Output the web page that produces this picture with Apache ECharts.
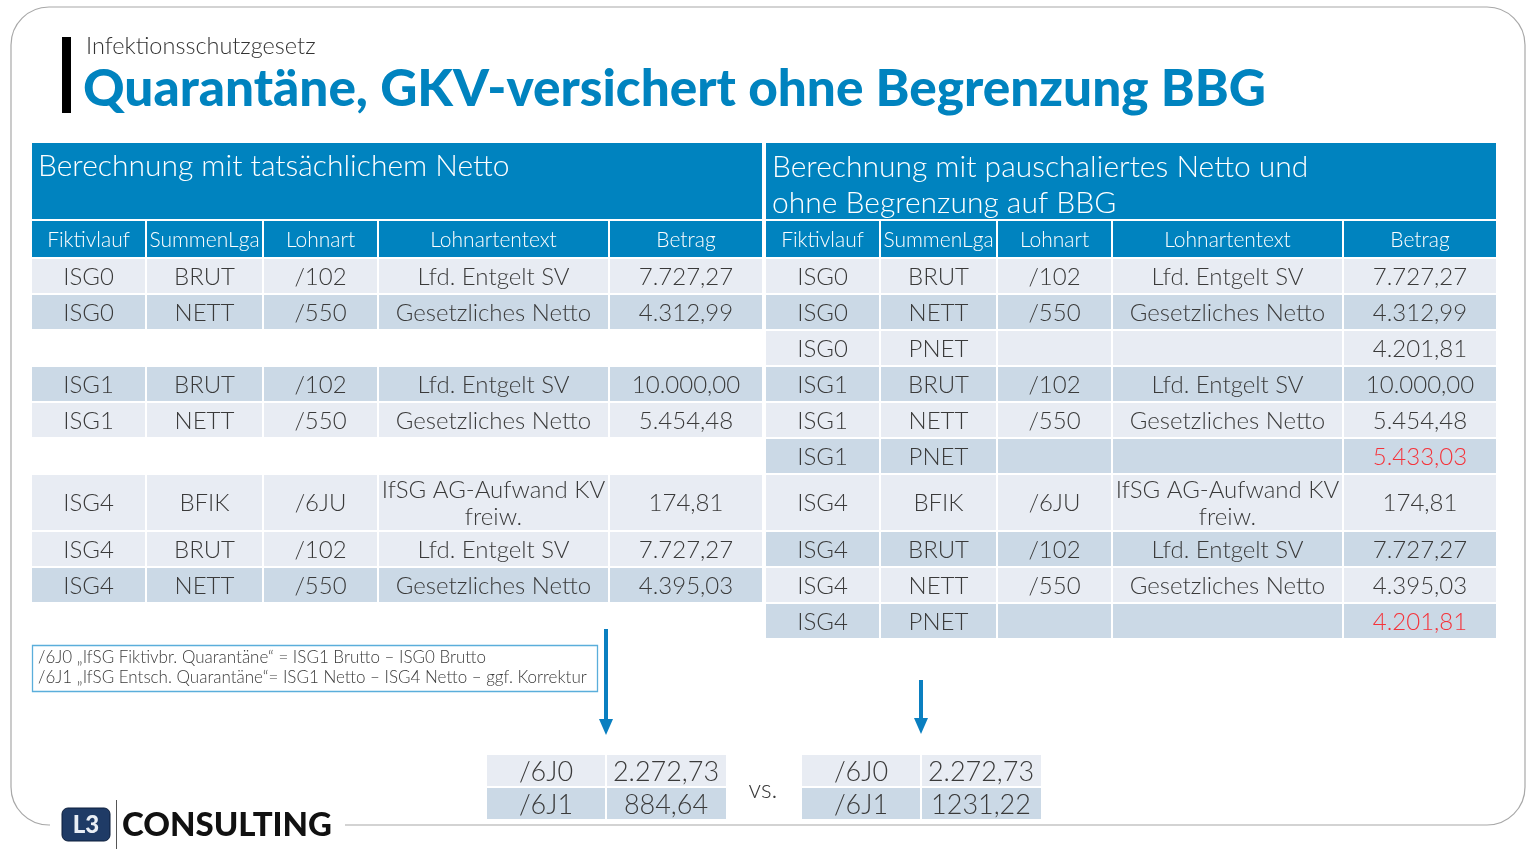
<!DOCTYPE html>
<html>
<head>
<meta charset="utf-8">
<script src="https://cdn.jsdelivr.net/npm/echarts@6/dist/echarts.min.js"></script>
<style>html,body{margin:0;padding:0;background:#fff}#c{width:1536px;height:853px}</style>
</head>
<body>
<div id="c"></div>
<script>
// ---------- data ----------
const kicker = 'Infektionsschutzgesetz';
const title = 'Quarantäne, GKV-versichert ohne Begrenzung BBG';
const columns = ['Fiktivlauf', 'SummenLga', 'Lohnart', 'Lohnartentext', 'Betrag'];
const leftTitle = 'Berechnung mit tatsächlichem Netto';
const rightTitle = 'Berechnung mit pauschaliertes Netto und\nohne Begrenzung auf BBG';
const leftRows = [
  ['ISG0', 'BRUT', '/102', 'Lfd. Entgelt SV', '7.727,27'],
  ['ISG0', 'NETT', '/550', 'Gesetzliches Netto', '4.312,99'],
  null,
  ['ISG1', 'BRUT', '/102', 'Lfd. Entgelt SV', '10.000,00'],
  ['ISG1', 'NETT', '/550', 'Gesetzliches Netto', '5.454,48'],
  null,
  ['ISG4', 'BFIK', '/6JU', 'IfSG AG-Aufwand KV\nfreiw.', '174,81'],
  ['ISG4', 'BRUT', '/102', 'Lfd. Entgelt SV', '7.727,27'],
  ['ISG4', 'NETT', '/550', 'Gesetzliches Netto', '4.395,03']
];
const rightRows = [
  ['ISG0', 'BRUT', '/102', 'Lfd. Entgelt SV', '7.727,27'],
  ['ISG0', 'NETT', '/550', 'Gesetzliches Netto', '4.312,99'],
  ['ISG0', 'PNET', '', '', '4.201,81'],
  ['ISG1', 'BRUT', '/102', 'Lfd. Entgelt SV', '10.000,00'],
  ['ISG1', 'NETT', '/550', 'Gesetzliches Netto', '5.454,48'],
  ['ISG1', 'PNET', '', '', '5.433,03'],
  ['ISG4', 'BFIK', '/6JU', 'IfSG AG-Aufwand KV\nfreiw.', '174,81'],
  ['ISG4', 'BRUT', '/102', 'Lfd. Entgelt SV', '7.727,27'],
  ['ISG4', 'NETT', '/550', 'Gesetzliches Netto', '4.395,03'],
  ['ISG4', 'PNET', '', '', '4.201,81']
];
const noteLines = [
  '/6J0 „IfSG Fiktivbr. Quarantäne“ = ISG1 Brutto – ISG0 Brutto',
  '/6J1 „IfSG Entsch. Quarantäne“= ISG1 Netto – ISG4 Netto – ggf. Korrektur'
];
const resultCodes = ['/6J0', '/6J1'];
const resultLeft = ['2.272,73', '884,64'];
const resultRight = ['2.272,73', '1231,22'];
const versusLabel = 'vs.';
const logoText = 'CONSULTING';

// ---------- styles / layout ----------
const BLUE = '#0083bf', LIGHT = '#e8ecf3', DARK = '#cbd9e6', TXT = '#3a3a3a', RED = '#f5333a';
const FONT = 'Lato, "Noto Sans", sans-serif';
const leftShade = ['L', 'D', null, 'D', 'L', null, 'L', 'L', 'D'];
const rightShade = ['L', 'D', 'L', 'D', 'L', 'D', 'L', 'D', 'L', 'D'];
const rightRed = [[5, 4], [9, 4]];
const colOff = [0, 115, 232, 347, 578];
const colW = [113, 115, 113, 229, 152];

const g = [];
function rect(x, y, w, h, fill, extra) {
  g.push(Object.assign({ type: 'rect', shape: { x, y, width: w, height: h }, style: { fill }, silent: true }, extra || {}));
}
function text(x, y, t, size, color, weight, align, lh) {
  g.push({
    type: 'text', x, y, silent: true,
    style: {
      text: t, fill: color, fontSize: size, fontFamily: FONT, fontWeight: weight || 300,
      align: align || 'center', verticalAlign: 'middle', textAlign: align || 'center', textVerticalAlign: 'middle',
      lineHeight: lh || Math.round(size * 1.15)
    }
  });
}

function table(x0, ttl, rows, shade, reds) {
  const tw = colOff[4] + colW[4];
  rect(x0, 143, tw, 76, BLUE);
  text(x0 + 6, ttl.indexOf('\n') >= 0 ? 185 : 166, ttl, 30, '#fff', 300, 'left', 36);
  columns.forEach((c, j) => {
    rect(x0 + colOff[j], 221, colW[j], 36, BLUE);
    text(x0 + colOff[j] + colW[j] / 2, 240, c, 21, '#fff', 300);
  });
  let y = 259;
  rows.forEach((r, i) => {
    const tall = r && r.some(v => v.indexOf('\n') >= 0);
    const h = tall ? 55 : 34;
    if (r) {
      r.forEach((v, j) => {
        rect(x0 + colOff[j], y, colW[j], h, shade[i] === 'D' ? DARK : LIGHT);
        const red = reds.some(p => p[0] === i && p[1] === j);
        text(x0 + colOff[j] + colW[j] / 2, y + h / 2 + 1, v, 24, red ? RED : TXT, 300, 'center', 27);
      });
    }
    y += h + 2;
  });
}

// frame
g.push({ type: 'rect', shape: { x: 11, y: 7, width: 1514, height: 818, r: 38 }, style: { fill: '#fff', stroke: '#a8a8a8', lineWidth: 1.2 }, silent: true });
rect(50, 815, 295, 20, '#fff');
// heading
rect(62, 37, 9, 76, '#000');
text(86, 46, kicker, 23.5, '#333', 300, 'left');
text(83, 89, title, 51.3, BLUE, 900, 'left');

table(32, leftTitle, leftRows, leftShade, []);
table(766, rightTitle, rightRows, rightShade, rightRed);

// note box
g.push({ type: 'rect', shape: { x: 32.5, y: 645.5, width: 565, height: 46 }, style: { fill: '#fff', stroke: '#5aaedb', lineWidth: 1.3 }, silent: true });
noteLines.forEach((l, i) => text(38, 658 + i * 20, l, 17, '#3a3a3a', 300, 'left'));

// arrows
function arrow(x, y1, y2) {
  g.push({ type: 'line', shape: { x1: x, y1, x2: x, y2: y2 - 14 }, style: { stroke: '#0a7fc0', lineWidth: 4 }, silent: true });
  g.push({ type: 'polygon', shape: { points: [[x - 7, y2 - 16], [x + 7, y2 - 16], [x, y2]] }, style: { fill: '#0a7fc0' }, silent: true });
}
arrow(606, 629, 735);
arrow(921, 680, 734);

// result tables
function result(x0, vals) {
  resultCodes.forEach((c, i) => {
    const y = 755 + i * 33;
    const f = i === 0 ? LIGHT : DARK;
    rect(x0, y, 118, 31, f);
    rect(x0 + 120, y, 119, 31, f);
    text(x0 + 59, y + 17, c, 27, TXT, 300);
    text(x0 + 179, y + 17, vals[i], 27, TXT, 300);
  });
}
result(487, resultLeft);
result(802, resultRight);
text(763, 790, versusLabel, 25, TXT, 300);

// logo
g.push({ type: 'rect', shape: { x: 62, y: 808, width: 48, height: 33, r: 6 }, style: { fill: '#1f3b66', stroke: '#0d1f3c', lineWidth: 1 }, silent: true });
text(86, 825, 'L3', 24, '#e9eef5', 900);
g.push({ type: 'line', shape: { x1: 116.5, y1: 800, x2: 116.5, y2: 849 }, style: { stroke: '#555', lineWidth: 1 }, silent: true });
text(122, 825, logoText, 33, '#111', 900, 'left');

const chart = echarts.init(document.getElementById('c'), null, { renderer: 'canvas' });
chart.setOption({ backgroundColor: '#fff', animation: false, graphic: { elements: g } });
</script>
</body>
</html>
